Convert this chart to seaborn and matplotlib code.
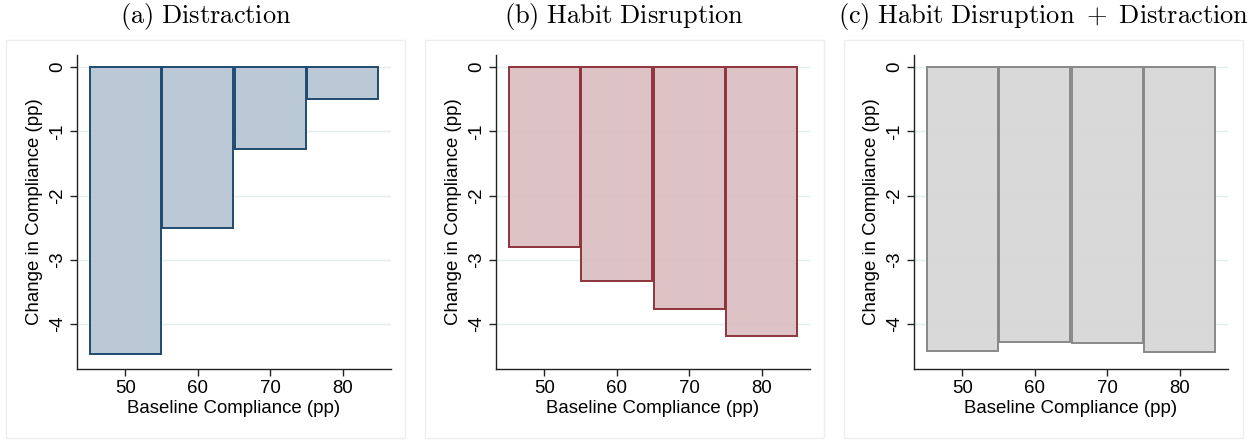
import matplotlib
matplotlib.use("Agg")
import matplotlib.pyplot as plt
import matplotlib.patches as mpatches
import seaborn as sns

# Baseline compliance bins (pp): bin centers and edges
bin_centers = [50, 60, 70, 80]
bin_edges = [45, 55, 65, 75, 85]

# Change in compliance (pp) per bin, one series per treatment
distraction = [-4.46, -2.50, -1.27, -0.50]
habit_disruption = [-2.80, -3.33, -3.77, -4.19]
habit_plus_distraction = [-4.42, -4.28, -4.30, -4.43]

titles = [
    r"$\mathrm{(a)\ Distraction}$",
    r"$\mathrm{(b)\ Habit\ Disruption}$",
    r"$\mathrm{(c)\ Habit\ Disruption\ +\ Distraction}$",
]
x_ticks = [50, 60, 70, 80]
y_ticks = [0, -1, -2, -3, -4]
x_label = "Baseline Compliance (pp)"
y_label = "Change in Compliance (pp)"

fills = ["#b6c4d2", "#dbbdc1", "#d6d6d6"]
edges = ["#1f4a70", "#8e343c", "#888888"]

sns.set_theme(style="white")
plt.rcParams["font.family"] = ["Liberation Sans", "DejaVu Sans"]
plt.rcParams["mathtext.fontset"] = "cm"
plt.rcParams["text.color"] = "black"
plt.rcParams["axes.labelcolor"] = "black"
plt.rcParams["xtick.color"] = "black"
plt.rcParams["ytick.color"] = "black"

W, H = 1255, 440
fig = plt.figure(figsize=(W / 100, H / 100), dpi=100)
fig.patch.set_facecolor("white")

axes_left_px = [77, 496, 914]
frame_left_px = [6, 425, 844]
frame_w_px = 399
ax_w_px = 314
ax_top_px, ax_bot_px = 55, 369
frame_top_px, frame_bot_px = 40, 438

series = [distraction, habit_disruption, habit_plus_distraction]

for i, vals in enumerate(series):
    # light outer frame around each panel
    fig.patches.append(mpatches.Rectangle(
        (frame_left_px[i] / W, 1 - frame_bot_px / H),
        frame_w_px / W, (frame_bot_px - frame_top_px) / H,
        transform=fig.transFigure, fill=False, edgecolor="#eeeeee",
        linewidth=1.0, zorder=0))

    ax = fig.add_axes([axes_left_px[i] / W, 1 - ax_bot_px / H,
                       ax_w_px / W, (ax_bot_px - ax_top_px) / H])
    ax.set_facecolor("white")

    sns.histplot(x=bin_centers, weights=vals, bins=bin_edges, ax=ax,
                 stat="count", element="bars", fill=True, legend=False,
                 shrink=0.985)
    for p in ax.patches:
        p.set_alpha(None)
        p.set_facecolor(matplotlib.colors.to_rgba(fills[i], 0.92))
        p.set_edgecolor(edges[i])
        p.set_linewidth(1.4)
        p.set_zorder(2)

    ax.set_xlim(43.3, 86.7)
    ax.set_ylim(-4.70, 0.19)
    ax.set_xticks(x_ticks)
    ax.set_yticks(y_ticks)
    ax.set_yticklabels([str(v) for v in y_ticks], rotation=90, va="center")
    ax.grid(axis="y", color="#e3ecef", linewidth=1.0, zorder=0)
    ax.grid(axis="x", visible=False)
    ax.set_axisbelow(True)

    for s in ["top", "right"]:
        ax.spines[s].set_visible(False)
    for s in ["left", "bottom"]:
        ax.spines[s].set_color("#222222")
        ax.spines[s].set_linewidth(1.0)
    ax.tick_params(axis="both", which="major", direction="out", length=5,
                   width=1.0, color="#222222", labelsize=13.4, pad=3,
                   left=True, bottom=True)
    ax.set_xlabel(x_label, fontsize=13.4, labelpad=2)
    ax.set_ylabel(y_label, fontsize=13.4, labelpad=4)

    cx = (frame_left_px[i] + frame_w_px / 2) / W
    fig.text(cx, 1 - 17 / H, titles[i], ha="center", va="center",
             fontsize=19, color="black")

fig.savefig("out.png", dpi=100)
